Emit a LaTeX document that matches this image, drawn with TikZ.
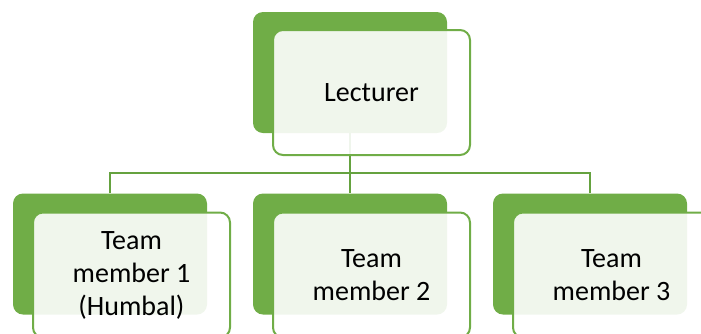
\documentclass[tikz,border=0pt]{standalone}
\usepackage{fontspec}
\setmainfont{Carlito}
\definecolor{grn}{HTML}{70AD47}
\definecolor{lnk}{HTML}{65A23F}
\begin{document}
\begin{tikzpicture}[x=1pt,y=-1pt,
  back/.style={fill=grn, draw=none, rounded corners=10pt, minimum width=194pt, minimum height=121pt, inner sep=0pt},
  front/.style={draw=grn, line width=2pt, fill=white, fill opacity=0.9, text opacity=1, rounded corners=10pt, minimum width=197pt, minimum height=125pt, inner sep=0pt, align=center, font=\fontsize{28}{33}\selectfont},
  link/.style={draw=lnk, line width=2.5pt}]
\useasboundingbox (0,0) rectangle (701,333);
% back boxes
\node[back] (bT) at (350,72.5) {};
\node[back] (b1) at (110,254) {};
\node[back] (b2) at (350,254) {};
\node[back] (b3) at (590,254) {};
% connectors
\coordinate (j) at (350,173);
\draw[link] (bT.south) -- (j);
\draw[link] (b1.north) |- (j);
\draw[link] (b3.north) |- (j);
\draw[link] (j) -- (b2.north);
% front boxes
\node[front] (fT) at (371.5,92.5) {Lecturer};
\node[front] (f1) at (131.5,275) {Team\\member 1\\(Humbal)};
\node[front] (f2) at (371.5,275) {Team\\member 2};
\node[front] (f3) at (611.5,275) {Team\\member 3};
\end{tikzpicture}
\end{document}
